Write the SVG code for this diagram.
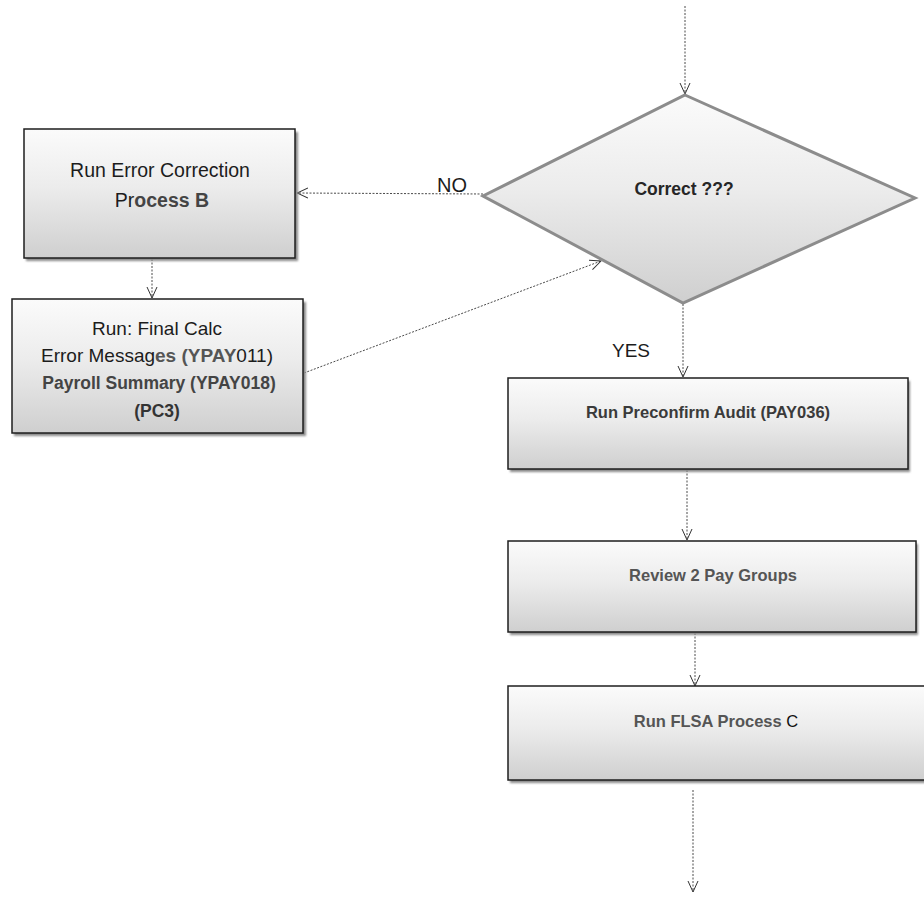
<svg xmlns="http://www.w3.org/2000/svg" width="924" height="900" viewBox="0 0 924 900">
  <style>
    .box { fill: url(#boxFill); stroke: #1e1e1e; stroke-width: 1.5; }
    .shadow { fill: #8a8a8a; filter: url(#soft); }
    .diamond { fill: url(#boxFill); stroke: #8c8c8c; stroke-width: 3; stroke-linejoin: miter; }
    .lbl { font-family: "Liberation Sans", Arial, sans-serif; fill: #1c1c1c; text-anchor: middle; }
    .bold { font-weight: bold; fill: #3a3a3a; }
    .conn { fill: none; stroke: #4a4a4a; stroke-width: 1; stroke-dasharray: 2 1.5; marker-end: url(#vee); }
  </style>
  <defs>
    <linearGradient id="boxFill" x1="0" y1="0" x2="0" y2="1">
      <stop offset="0" stop-color="#fbfbfb"/>
      <stop offset="0.45" stop-color="#ececec"/>
      <stop offset="1" stop-color="#cfcfcf"/>
    </linearGradient>
    <filter id="soft" x="-5%" y="-5%" width="110%" height="115%">
      <feGaussianBlur stdDeviation="1.2"/>
    </filter>
    <marker id="vee" viewBox="0 0 12 12" refX="11" refY="6" markerWidth="12" markerHeight="12" markerUnits="userSpaceOnUse" orient="auto">
      <path d="M0,1 L11,6 L0,11" fill="none" stroke="#333" stroke-width="1"/>
    </marker>
  </defs>

  <rect width="924" height="900" fill="#ffffff"/>

  <!-- connectors -->
  <g id="connectors">
    <line class="conn" x1="685" y1="6" x2="685" y2="94"/>
    <line class="conn" x1="483" y1="194" x2="297" y2="193"/>
    <line class="conn" x1="152" y1="259" x2="152" y2="298"/>
    <line class="conn" x1="304" y1="373" x2="601" y2="261"/>
    <line class="conn" x1="683" y1="304" x2="683" y2="377"/>
    <line class="conn" x1="687" y1="470" x2="687" y2="540"/>
    <line class="conn" x1="695" y1="633" x2="695" y2="686"/>
    <line class="conn" x1="693" y1="790" x2="693" y2="892"/>
    <text class="lbl" x="452" y="192" font-size="20">NO</text>
    <text class="lbl" x="631" y="357" font-size="19">YES</text>
  </g>

  <!-- decision -->
  <g id="decision-correct">
    <polygon class="diamond" points="685,95 915,198 683,303 483,196"/>
    <text class="lbl bold" x="684" y="195" font-size="17.5" style="fill:#262626">Correct ???</text>
  </g>

  <!-- left branch -->
  <g id="error-correction">
    <rect class="shadow" x="26" y="132" width="272" height="129"/>
    <rect class="box" x="24" y="129" width="271" height="129"/>
    <text class="lbl" x="160" y="177" font-size="19.5">Run Error Correction</text>
    <text class="lbl" x="162" y="207" font-size="19.5"><tspan>Pr</tspan><tspan style="font-weight:bold;fill:#444">ocess B</tspan></text>
  </g>

  <g id="final-calc">
    <rect class="shadow" x="14" y="302" width="292" height="134"/>
    <rect class="box" x="12" y="299" width="291" height="134"/>
    <text class="lbl" x="157" y="335" font-size="19">Run: Final Calc</text>
    <text class="lbl" x="157" y="362" font-size="19">Error Messag<tspan style="font-weight:bold;fill:#555">es (YPAY</tspan>011)</text>
    <text class="lbl bold" x="159" y="389" font-size="17.5" style="fill:#444">Payroll Summary (YPAY018)</text>
    <text class="lbl bold" x="157" y="417" font-size="17.5" style="fill:#333">(PC3)</text>
  </g>

  <!-- main line -->
  <g id="preconfirm-audit">
    <rect class="shadow" x="510" y="381" width="400" height="91"/>
    <rect class="box" x="508" y="378" width="400" height="91"/>
    <text class="lbl bold" x="708" y="418" font-size="16.5">Run Preconfirm Audit (PAY036)</text>
  </g>

  <g id="review-pay-groups">
    <rect class="shadow" x="510" y="544" width="408" height="91"/>
    <rect class="box" x="508" y="541" width="408" height="91"/>
    <text class="lbl bold" x="713" y="581" font-size="16.5" style="fill:#555">Review 2 Pay Groups</text>
  </g>

  <g id="flsa-process">
    <rect class="shadow" x="510" y="689" width="420" height="94"/>
    <rect class="box" x="508" y="686" width="420" height="94"/>
    <text class="lbl bold" x="716" y="727" font-size="16.5" style="fill:#555">Run FLSA Process <tspan style="font-weight:normal;fill:#111">C</tspan></text>
  </g>
</svg>
